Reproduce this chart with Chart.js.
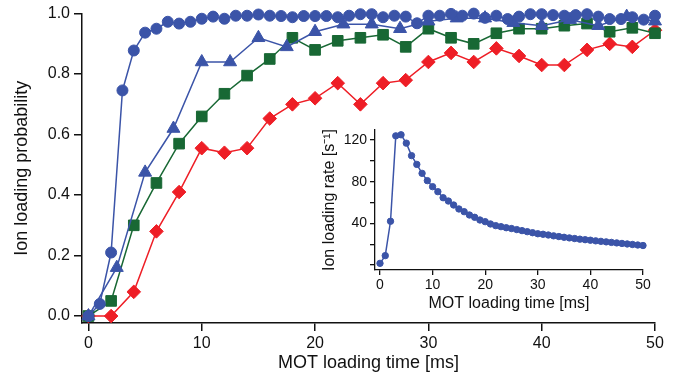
<!DOCTYPE html>
<html>
<head>
<meta charset="utf-8">
<script src="https://cdn.jsdelivr.net/npm/chart.js@4"></script>
<style>
  body { margin: 0; background: #fff; }
  #wrap { position: relative; width: 685px; height: 381px; }
  #mainChart { position: absolute; left: 0; top: 0; }
  #insetChart { position: absolute; left: 300px; top: 115px; }
</style>
</head>
<body>
<div id="wrap">
  <canvas id="mainChart" width="685" height="381"></canvas>
  <canvas id="insetChart" width="380" height="210"></canvas>
</div>
<script>
// main plot: ion loading probability vs MOT loading time
const circleTime = [0,1,2,3,4,5,6,7,8,9,10,11,12,13,14,15,16,17,18,19,20,21,22,23,24,25,
  26,27,28,29,30,31,32,33,34,35,36,37,38,39,40,41,42,43,44,45,46,47,48,49,50];
const circleProb = [0, 0.04, 0.21, 0.746, 0.878, 0.937, 0.95, 0.973, 0.967, 0.973, 0.983,
  0.99, 0.983, 0.993, 0.993, 0.997, 0.993, 0.992, 0.988, 0.992, 0.992, 0.992, 0.988, 0.993,
  0.998, 0.998, 0.988, 0.993, 0.99, 0.968, 0.993, 0.993, 0.999, 0.993, 1.0, 0.986, 0.993,
  0.982, 0.99, 0.998, 0.998, 0.995, 0.993, 0.995, 0.998, 0.99, 0.982, 0.982, 0.988, 0.98, 0.993];

const triangleTime = [0, 2.5, 5, 7.5, 10, 12.5, 15, 17.5, 20, 22.5, 25, 27.5, 30, 32.5, 35,
  37.5, 40, 42.5, 45, 47.5, 50];
const triangleProb = [0, 0.16, 0.475, 0.62, 0.84, 0.84, 0.92, 0.89, 0.94, 0.965, 0.965,
  0.95, 0.975, 0.985, 0.985, 0.97, 0.96, 0.98, 0.96, 0.99, 0.975];

const squareTime = [0,2,4,6,8,10,12,14,16,18,20,22,24,26,28,30,32,34,36,38,40,42,44,46,48,50];
const squareProb = [0, 0.05, 0.30, 0.44, 0.57, 0.66, 0.735, 0.795, 0.85, 0.92, 0.88, 0.91,
  0.92, 0.93, 0.89, 0.95, 0.92, 0.90, 0.935, 0.95, 0.95, 0.96, 0.967, 0.94, 0.953, 0.935];

const diamondTime = [0,2,4,6,8,10,12,14,16,18,20,22,24,26,28,30,32,34,36,38,40,42,44,46,48,50];
const diamondProb = [0, 0, 0.08, 0.28, 0.41, 0.555, 0.54, 0.555, 0.653, 0.70, 0.72, 0.77,
  0.70, 0.77, 0.78, 0.84, 0.87, 0.84, 0.885, 0.86, 0.83, 0.83, 0.88, 0.90, 0.89, 0.945];

const mainXTicks = [0, 10, 20, 30, 40, 50];
const mainYTicks = [0, 0.2, 0.4, 0.6, 0.8, 1.0];

// inset: ion loading rate
const rateTime = circleTime;
const rateValues = [1.6, 9, 42, 124, 125, 117, 105, 96.6, 88, 81, 75.2, 70.4, 64.6, 61.4,
  57.6, 53.8, 51.2, 48, 45.8, 43.2, 41.6, 39.4, 37.8, 36.8, 35.8, 35, 34, 33, 32, 31, 30,
  29.5, 28.8, 28, 27.3, 26.6, 26, 25.4, 24.8, 24.3, 23.8, 23.2, 22.7, 22.2, 21.7, 21.2,
  20.7, 20.2, 19.7, 19.2, 18.7];
const insetXTicks = [0, 10, 20, 30, 40, 50];
const insetYTicks = [0, 20, 40, 60, 80, 100, 120];
const insetYLabels = ['', '', '40', '', '80', '', '120'];

const BLUE = 'rgb(59,84,168)';
const GREEN = 'rgb(24,104,52)';
const RED = 'rgb(238,30,38)';
const FONT = "'Liberation Sans', Arial, sans-serif";
const INK = '#111';

function pts(xs, ys) {
  return xs.map((x, i) => ({ x: x, y: ys[i] }));
}

function series(xs, ys, color, style, radius) {
  return {
    data: pts(xs, ys),
    borderColor: color,
    backgroundColor: color,
    borderWidth: 1.5,
    pointStyle: style,
    pointRadius: radius,
    pointBorderWidth: 1,
    pointBorderColor: color,
    pointBackgroundColor: color,
    clip: false,
    tension: 0
  };
}

function fixedTicks(values) {
  return function(scale) {
    scale.ticks = values.map(v => ({ value: v }));
  };
}

new Chart(document.getElementById('mainChart'), {
  type: 'line',
  data: {
    datasets: [
      series(circleTime, circleProb, BLUE, 'circle', 5.5),
      series(triangleTime, triangleProb, BLUE, 'triangle', 7.5),
      series(squareTime, squareProb, GREEN, 'rect', 7.5),
      series(diamondTime, diamondProb, RED, 'rectRot', 6.8)
    ]
  },
  options: {
    responsive: false,
    animation: false,
    layout: { padding: { left: 0, right: 30, top: 13, bottom: 0 } },
    plugins: { legend: { display: false }, tooltip: { enabled: false } },
    scales: {
      x: {
        type: 'linear',
        min: -0.57,
        max: 50,
        afterBuildTicks: fixedTicks(mainXTicks),
        afterFit: s => { s.height = 58; },
        grid: { drawOnChartArea: false, tickLength: 8, color: INK, lineWidth: 1.5 },
        border: { color: INK, width: 1.5 },
        ticks: { color: INK, font: { family: FONT, size: 16 }, padding: 3, maxRotation: 0 },
        title: {
          display: true, text: 'MOT loading time [ms]', color: INK,
          font: { family: FONT, size: 18 }, padding: { top: 0, bottom: 7 }
        }
      },
      y: {
        min: -0.023,
        max: 1.0,
        afterBuildTicks: fixedTicks(mainYTicks),
        afterFit: s => { s.width = 82; },
        grid: { drawOnChartArea: false, tickLength: 8, color: INK, lineWidth: 1.5 },
        border: { color: INK, width: 1.5 },
        ticks: {
          color: INK, font: { family: FONT, size: 16 }, padding: 4,
          callback: v => v.toFixed(1)
        },
        title: {
          display: true, text: 'Ion loading probability', color: INK,
          font: { family: FONT, size: 18 }, padding: { top: 11, bottom: 0 }
        }
      }
    }
  }
});

new Chart(document.getElementById('insetChart'), {
  type: 'line',
  data: {
    datasets: [series(rateTime, rateValues, BLUE, 'circle', 3.2)]
  },
  options: {
    responsive: false,
    animation: false,
    layout: { padding: { left: 0, right: 37, top: 15, bottom: 0 } },
    plugins: { legend: { display: false }, tooltip: { enabled: false } },
    scales: {
      x: {
        type: 'linear',
        min: -0.95,
        max: 50,
        afterBuildTicks: fixedTicks(insetXTicks),
        afterFit: s => { s.height = 55; },
        grid: { drawOnChartArea: false, tickLength: 5, color: INK, lineWidth: 1.3 },
        border: { color: INK, width: 1.3 },
        ticks: { color: INK, font: { family: FONT, size: 14 }, padding: 2, maxRotation: 0 },
        title: {
          display: true, text: 'MOT loading time [ms]', color: INK,
          font: { family: FONT, size: 16 }, padding: { top: 0, bottom: 12 }
        }
      },
      y: {
        min: -4.8,
        max: 129.6,
        afterBuildTicks: fixedTicks(insetYTicks),
        afterFit: s => { s.width = 75; },
        grid: { drawOnChartArea: false, tickLength: 5, color: INK, lineWidth: 1.3 },
        border: { color: INK, width: 1.3 },
        ticks: {
          color: INK, font: { family: FONT, size: 14 }, padding: 3,
          callback: (v, i) => insetYLabels[i]
        },
        title: {
          display: true, text: 'Ion loading rate [s⁻¹]', color: INK,
          font: { family: FONT, size: 16 }, padding: { top: 20, bottom: 0 }
        }
      }
    }
  }
});
</script>
</body>
</html>
